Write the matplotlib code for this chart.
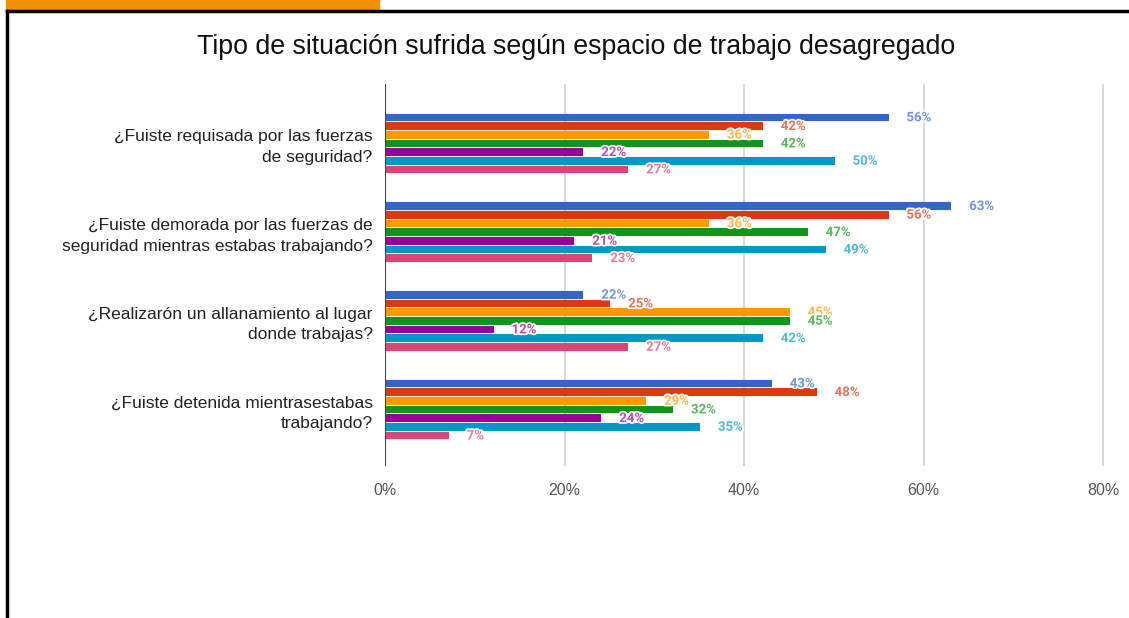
import numpy as np
import matplotlib
matplotlib.use("Agg")
import matplotlib.pyplot as plt
import matplotlib.patheffects as pe
from matplotlib.colors import to_rgb

# fuentes
plt.rcParams["font.family"] = ["Liberation Sans", "DejaVu Sans"]

# datos
categorias = [
    "¿Fuiste requisada por las fuerzas\nde seguridad?",
    "¿Fuiste demorada por las fuerzas de\nseguridad mientras estabas trabajando?",
    "¿Realizarón un allanamiento al lugar\ndonde trabajas?",
    "¿Fuiste detenida mientrasestabas\ntrabajando?",
]
serie_1 = [56, 63, 22, 43]
serie_2 = [42, 56, 25, 48]
serie_3 = [36, 36, 45, 29]
serie_4 = [42, 47, 45, 32]
serie_5 = [22, 21, 12, 24]
serie_6 = [50, 49, 42, 35]
serie_7 = [27, 23, 27, 7]
series = [serie_1, serie_2, serie_3, serie_4, serie_5, serie_6, serie_7]
colores = ["#3366cc", "#dc3912", "#ff9900", "#109618", "#990099", "#0099c6", "#dd4477"]
ticks = [0, 20, 40, 60, 80]


def aclarar(c, f=0.3):
    r, g, b = to_rgb(c)
    return (r + (1 - r) * f, g + (1 - g) * f, b + (1 - b) * f)


fig = plt.figure(figsize=(11.29, 6.18), dpi=100)

# marco decorativo
W, H = 1129, 618
fig.patches.append(plt.Rectangle((6 / W, 1 - 9 / H), 373 / W, 9 / H, transform=fig.transFigure,
                                 color="#f39200", zorder=0))
fig.lines.append(plt.Line2D([7 / W, 1], [1 - 11 / H, 1 - 11 / H], transform=fig.transFigure,
                            color="black", lw=2.5))
fig.lines.append(plt.Line2D([7 / W, 7 / W], [0, 1 - 11 / H], transform=fig.transFigure,
                            color="black", lw=2.5))

ax_w = 718 * 81 / 80
ax = fig.add_axes([385 / W, 1 - 466 / H, ax_w / W, 382 / H])

n = len(series)
paso = 0.098
alto = 0.075
y = np.arange(len(categorias))
for k, (vals, col) in enumerate(zip(series, colores)):
    yy = y + (k - (n - 1) / 2) * paso
    ax.barh(yy, vals, height=alto, color=col, edgecolor=col, linewidth=0.8,
            joinstyle="round", zorder=3)
    for yi, v in zip(yy, vals):
        ax.text(v + 2.1, yi + 0.01, f"{v}%", color=aclarar(col), fontsize=9.5,
                fontweight="bold", family=["Roboto", "DejaVu Sans"], va="center", ha="left",
                zorder=4, path_effects=[pe.withStroke(linewidth=2.5, foreground="white")])

ax.set_xlim(0, 81)
ax.set_ylim(3 + 57 / 88.7, -59 / 88.7)
ax.set_xticks(ticks)
ax.set_xticklabels([f"{t}%" for t in ticks], color="#555555", fontsize=11.5)
ax.set_yticks(y)
ax.set_yticklabels(categorias, fontsize=12.5, color="#222222", linespacing=1.45)
ax.tick_params(axis="both", length=0)
ax.tick_params(axis="x", pad=12)
ax.tick_params(axis="y", pad=9)
for t in ticks[1:]:
    ax.axvline(t, color="#d9d9d9", lw=1.5, zorder=1)
ax.axvline(0, color="#444444", lw=1.5, zorder=5)
for s in ax.spines.values():
    s.set_visible(False)

fig.text(576 / W, 1 - 47 / H, "Tipo de situación sufrida según espacio de trabajo desagregado",
         ha="center", va="center", fontsize=19.3, color="#111111")

plt.savefig("out.png", dpi=100)
